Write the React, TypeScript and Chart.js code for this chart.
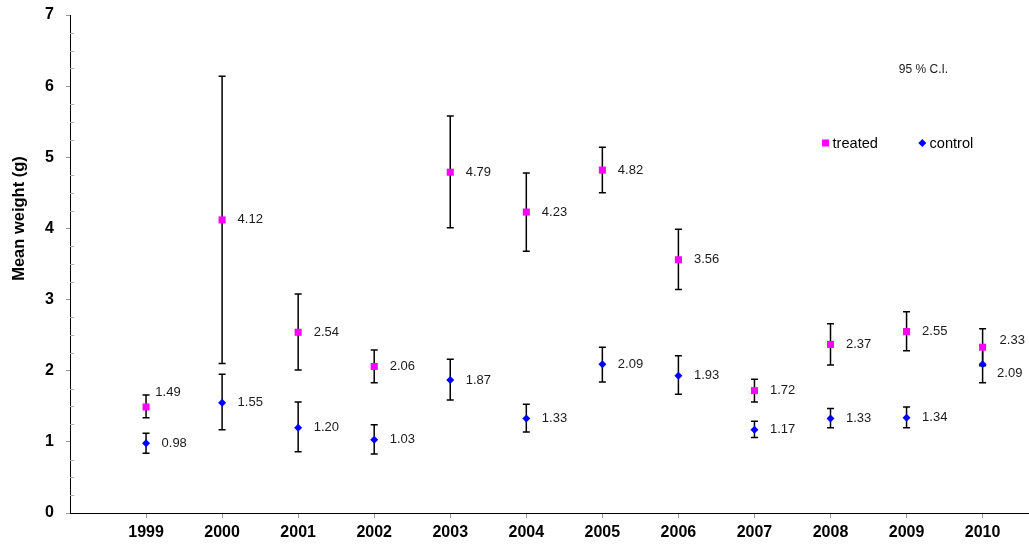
import React, { useEffect, useRef } from "react";
import { Chart, registerables } from "chart.js";

Chart.register(...registerables);

// ---- data ----
const years = [1999, 2000, 2001, 2002, 2003, 2004, 2005, 2006, 2007, 2008, 2009, 2010];
const treatedMeans = [1.49, 4.12, 2.54, 2.06, 4.79, 4.23, 4.82, 3.56, 1.72, 2.37, 2.55, 2.33];
const treatedLow = [1.34, 2.1, 2.01, 1.83, 4.01, 3.68, 4.5, 3.14, 1.56, 2.08, 2.28, 2.07];
const treatedHigh = [1.66, 6.14, 3.08, 2.29, 5.58, 4.78, 5.14, 3.99, 1.88, 2.66, 2.83, 2.59];
const controlMeans = [0.98, 1.55, 1.2, 1.03, 1.87, 1.33, 2.09, 1.93, 1.17, 1.33, 1.34, 2.09];
const controlLow = [0.84, 1.17, 0.86, 0.83, 1.59, 1.14, 1.84, 1.67, 1.06, 1.2, 1.2, 1.83];
const controlHigh = [1.12, 1.95, 1.56, 1.24, 2.16, 1.53, 2.33, 2.21, 1.29, 1.47, 1.49, 2.35];
const seriesNames = ["treated", "control"];
const axisTitle = "Mean weight (g)";
const noteText = "95 % C.I.";
const yMin = 0;
const yMax = 7;
const xMin = 1998;
const xMax = 2010.61;

// ---- style ----
const FONT = "'Liberation Sans', Arial, Helvetica, sans-serif";
const MAGENTA = "#FF00FF";
const BLUE = "#0000FF";
const labelNudge: Record<string, [number, number]> = {
  "0-0": [-6.2, -14.6],
  "0-11": [1.5, -6.7],
  "1-11": [-1, 9.3],
};

const zeroPad = (s: any) => {
  s.paddingLeft = 0;
  s.paddingRight = 0;
  s.paddingTop = 0;
  s.paddingBottom = 0;
};

const errorBarPlugin = {
  id: "errorBars",
  beforeDatasetsDraw(chart: any) {
    const { ctx } = chart;
    const x = chart.scales.x;
    const y = chart.scales.y;
    ctx.save();
    ctx.strokeStyle = "#000";
    ctx.lineWidth = 1.5;
    chart.data.datasets.forEach((ds: any) => {
      ds.data.forEach((pt: any, i: number) => {
        const px = x.getPixelForValue(pt.x);
        const lo = y.getPixelForValue(ds.errLow[i]);
        const hi = y.getPixelForValue(ds.errHigh[i]);
        ctx.beginPath();
        ctx.moveTo(px, lo);
        ctx.lineTo(px, hi);
        ctx.moveTo(px - 3.5, lo);
        ctx.lineTo(px + 3.5, lo);
        ctx.moveTo(px - 3.5, hi);
        ctx.lineTo(px + 3.5, hi);
        ctx.stroke();
      });
    });
    ctx.restore();
  },
  afterDatasetsDraw(chart: any) {
    const { ctx } = chart;
    const x = chart.scales.x;
    const y = chart.scales.y;
    ctx.save();
    ctx.font = `13px ${FONT}`;
    ctx.fillStyle = "#1a1a1a";
    ctx.textAlign = "left";
    ctx.textBaseline = "middle";
    chart.data.datasets.forEach((ds: any, di: number) => {
      ds.data.forEach((pt: any, i: number) => {
        const nudge = labelNudge[`${di}-${i}`] || [0, 0];
        const px = x.getPixelForValue(pt.x) + 15.5 + nudge[0];
        const py = y.getPixelForValue(pt.y) + nudge[1];
        ctx.fillText(pt.y.toFixed(2), px, py);
      });
    });
    ctx.restore();
  },
  afterDraw(chart: any) {
    const { ctx, chartArea } = chart;
    const y = chart.scales.y;
    ctx.save();
    // minor ticks
    ctx.strokeStyle = "#aaa";
    ctx.lineWidth = 1;
    for (let v = yMin + 0.25; v < yMax; v += 0.25) {
      if (Math.abs(v - Math.round(v)) < 1e-6) continue;
      const py = Math.round(y.getPixelForValue(v)) + 0.5;
      ctx.beginPath();
      ctx.moveTo(chartArea.left, py);
      ctx.lineTo(chartArea.left + 4, py);
      ctx.stroke();
    }
    // axis title
    ctx.fillStyle = "#000";
    ctx.font = `bold 16.5px ${FONT}`;
    ctx.textAlign = "center";
    ctx.textBaseline = "middle";
    ctx.translate(19, 218.5);
    ctx.rotate(-Math.PI / 2);
    ctx.fillText(axisTitle, 0, 0);
    ctx.setTransform(1, 0, 0, 1, 0, 0);
    // note
    ctx.font = `12px ${FONT}`;
    ctx.fillStyle = "#1a1a1a";
    ctx.fillText(noteText, 923.5, 69.5);
    // legend
    ctx.font = `14.6px ${FONT}`;
    ctx.textAlign = "left";
    ctx.fillStyle = MAGENTA;
    ctx.fillRect(822, 139.5, 7, 7);
    ctx.fillStyle = "#000";
    ctx.fillText(seriesNames[0], 832.5, 143.5);
    ctx.fillStyle = BLUE;
    ctx.beginPath();
    ctx.moveTo(922.3, 139);
    ctx.lineTo(926.3, 143);
    ctx.lineTo(922.3, 147);
    ctx.lineTo(918.3, 143);
    ctx.closePath();
    ctx.fill();
    ctx.fillStyle = "#000";
    ctx.fillText(seriesNames[1], 929.5, 143.5);
    ctx.restore();
  },
};

export default function App() {
  const canvasRef = useRef<HTMLCanvasElement | null>(null);

  useEffect(() => {
    if (!canvasRef.current) return;
    Chart.defaults.font.family = FONT;
    const chart = new Chart(canvasRef.current, {
      type: "scatter",
      data: {
        datasets: [
          {
            label: seriesNames[0],
            data: years.map((yr, i) => ({ x: yr, y: treatedMeans[i] })),
            errLow: treatedLow,
            errHigh: treatedHigh,
            pointStyle: "rect",
            pointRadius: 5,
            pointHoverRadius: 5,
            backgroundColor: MAGENTA,
            borderColor: MAGENTA,
            borderWidth: 0,
            showLine: false,
          } as any,
          {
            label: seriesNames[1],
            data: years.map((yr, i) => ({ x: yr, y: controlMeans[i] })),
            errLow: controlLow,
            errHigh: controlHigh,
            pointStyle: "rectRot",
            pointRadius: 4,
            pointHoverRadius: 4,
            backgroundColor: BLUE,
            borderColor: BLUE,
            borderWidth: 0,
            showLine: false,
          } as any,
        ],
      },
      options: {
        responsive: false,
        animation: false,
        layout: { autoPadding: false, padding: { top: 15, left: 0, right: 0, bottom: 0 } },
        plugins: {
          legend: { display: false },
          tooltip: { enabled: false },
        },
        scales: {
          x: {
            type: "linear",
            min: xMin,
            max: xMax,
            afterBuildTicks: (s: any) => {
              s.ticks = years.map((v) => ({ value: v }));
            },
            afterFit: (s: any) => {
              s.height = 31;
              zeroPad(s);
            },
            ticks: {
              autoSkip: false,
              maxRotation: 0,
              padding: 5,
              color: "#000",
              font: { size: 16, weight: "bold" },
              callback: (v: any) => String(v),
            },
            grid: { drawOnChartArea: false, tickLength: 5, tickColor: "#999" },
            border: { color: "#000", width: 1 },
          },
          y: {
            min: yMin,
            max: yMax,
            afterFit: (s: any) => {
              s.width = 70;
              zeroPad(s);
            },
            ticks: {
              stepSize: 1,
              padding: 12,
              color: "#000",
              font: { size: 16, weight: "bold" },
              callback: (v: any) => String(v),
            },
            grid: { drawOnChartArea: false, tickLength: 4, tickColor: "#999" },
            border: { color: "#000", width: 1 },
          },
        },
      },
      plugins: [errorBarPlugin],
    });
    return () => chart.destroy();
  }, []);

  return (
    <div style={{ position: "fixed", left: 0, top: 0, width: 1029, height: 544, background: "#fff" }}>
      <canvas ref={canvasRef} width={1029} height={544} style={{ display: "block" }} />
    </div>
  );
}
